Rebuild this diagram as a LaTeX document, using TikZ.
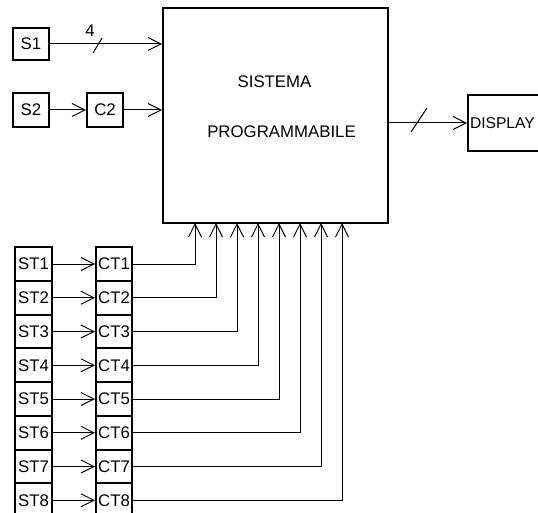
\documentclass[tikz,border=0pt]{standalone}
\usepackage{fontspec}
\setmainfont{Liberation Sans}
\usetikzlibrary{arrows.meta}
\begin{document}
\begin{tikzpicture}[x=1pt,y=-1pt,
  box/.style={draw, line width=2pt, inner sep=0pt, font=\fontsize{16.8}{18}\selectfont},
  lbl/.style={inner sep=0pt, font=\fontsize{16.8}{18}\selectfont},
  conn/.style={line width=1pt, -{Straight Barb[length=13pt,width=13pt,line width=1pt]}},
  wire/.style={line width=1pt}]
\useasboundingbox (0,0) rectangle (538,513);
% main block
\node[box, minimum width=225pt, minimum height=215pt] (sp) at (275.5,115.5) {};
\node[lbl, anchor=base] (t1) at (274.5,88) {SISTEMA};
\node[lbl, anchor=base] (t2) at (281.5,138) {PROGRAMMABILE};
% inputs
\node[box, minimum width=36pt, minimum height=32pt] (s1) at (31,44) {S1};
\node[box, minimum width=36pt, minimum height=34pt] (s2) at (31,110) {S2};
\node[box, minimum width=36pt, minimum height=34pt] (c2) at (105,110) {C2};
\draw[conn] (s1.east) -- (s1.east -| sp.west);
\draw[wire] (93,53) -- (102,38);
\node[lbl] (n4) at (90,31) {4};
\draw[conn] (s2) -- (c2);
\draw[conn] (c2.east) -- (c2.east -| sp.west);
% display
\node[box, minimum width=86pt, minimum height=56pt, anchor=west, text width=82pt, align=left, inner sep=1pt, font=\fontsize{15.6}{18}\selectfont] (disp) at (467,123) {DISPLAY};
\draw[conn] (sp.east |- disp.west) -- (disp.west);
\draw[wire] (411,132) -- (427,108);
% sensor chains
\foreach \i in {1,...,8} {
  \pgfmathsetmacro\yy{264+33.75*(\i-1)}
  \pgfmathsetmacro\xx{195+21*(\i-1)}
  \node[box, minimum width=37pt, minimum height=33.75pt] (st\i) at (33.5,\yy) {ST\i};
  \node[box, minimum width=36pt, minimum height=33.75pt] (ct\i) at (114,\yy) {CT\i};
  \draw[conn] (st\i) -- (ct\i);
  \coordinate (in\i) at (\xx,223);
  \draw[conn] (ct\i.east) -| (in\i);
}
\end{tikzpicture}
\end{document}
